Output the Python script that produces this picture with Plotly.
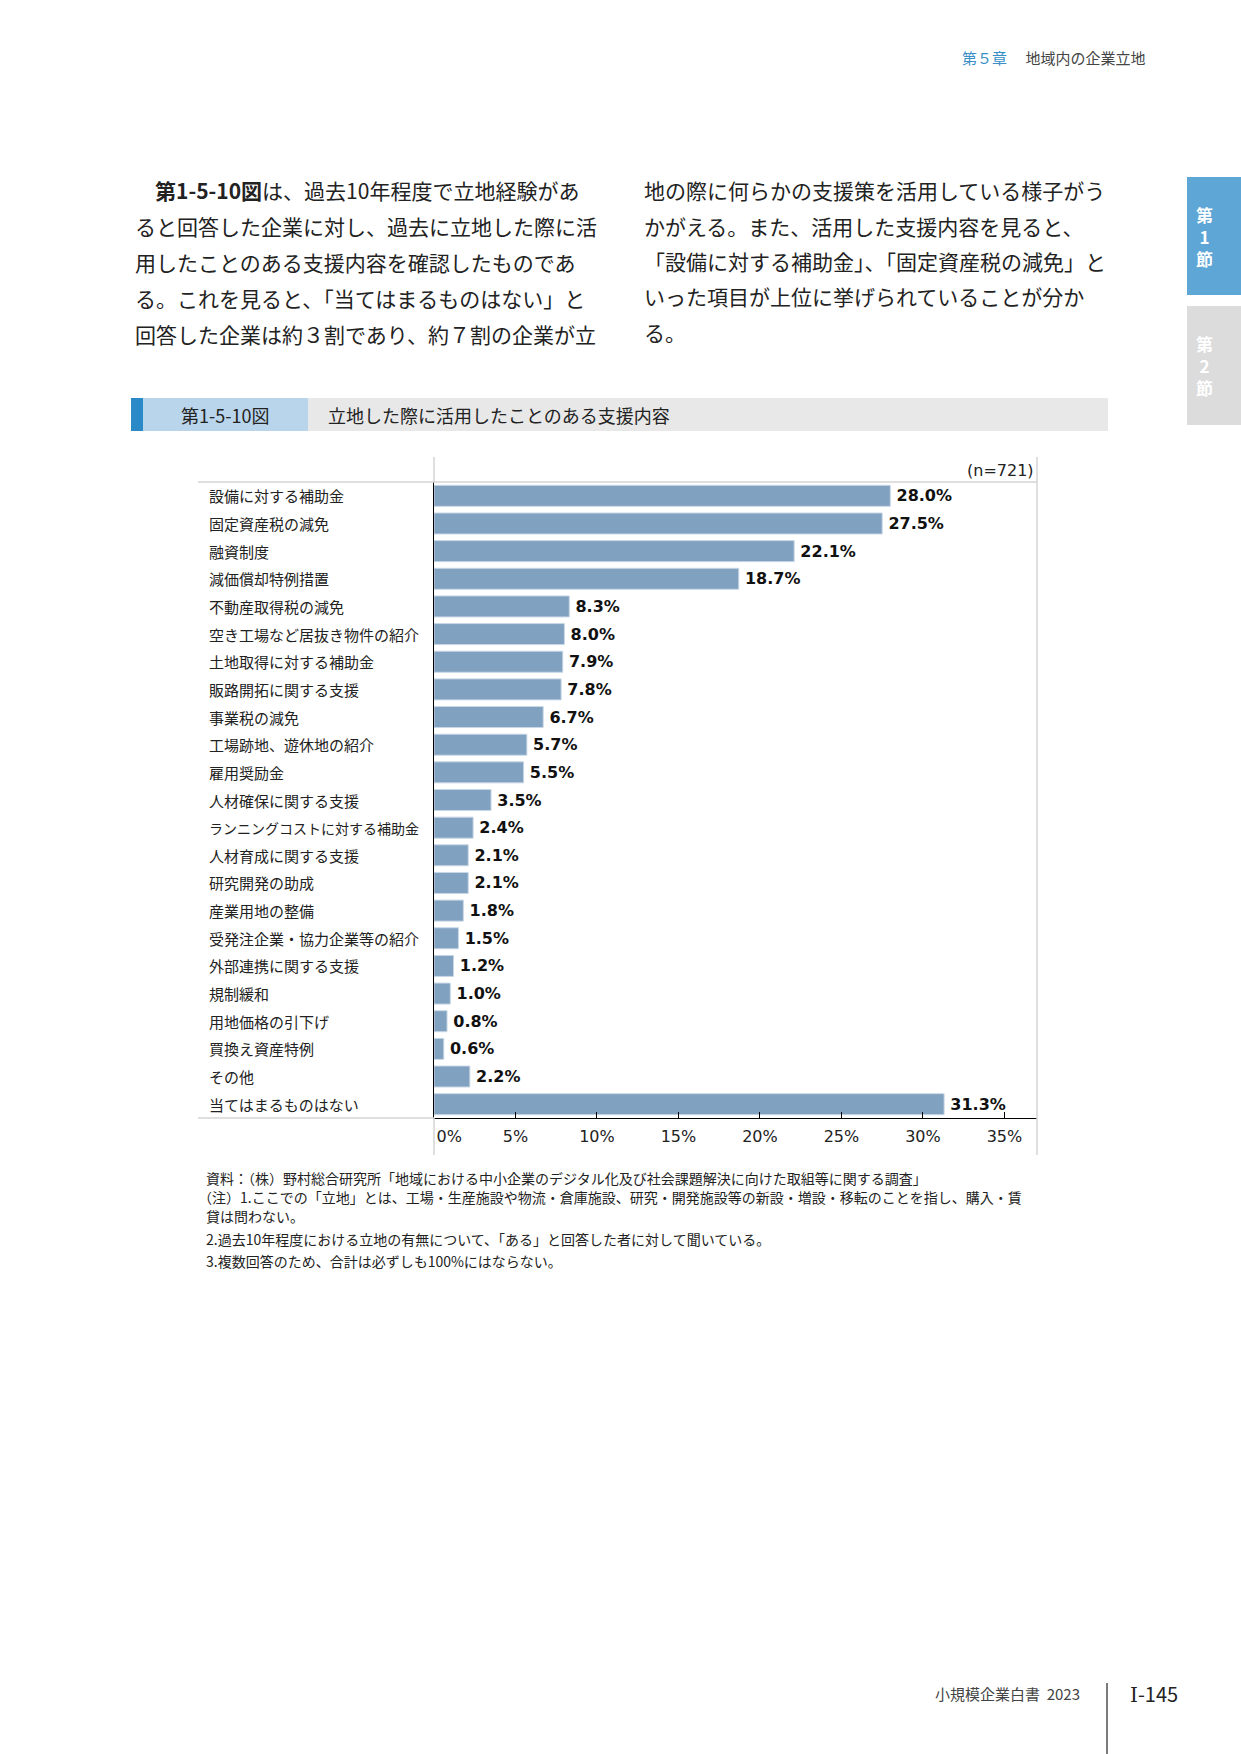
import plotly.graph_objects as go

W, H = 1241, 1754

categories = [
    "設備に対する補助金", "固定資産税の減免", "融資制度", "減価償却特例措置",
    "不動産取得税の減免", "空き工場など居抜き物件の紹介", "土地取得に対する補助金",
    "販路開拓に関する支援", "事業税の減免", "工場跡地、遊休地の紹介", "雇用奨励金",
    "人材確保に関する支援", "ランニングコストに対する補助金", "人材育成に関する支援",
    "研究開発の助成", "産業用地の整備", "受発注企業・協力企業等の紹介",
    "外部連携に関する支援", "規制緩和", "用地価格の引下げ", "買換え資産特例",
    "その他", "当てはまるものはない",
]
values = [28.0, 27.5, 22.1, 18.7, 8.3, 8.0, 7.9, 7.8, 6.7, 5.7, 5.5, 3.5, 2.4,
          2.1, 2.1, 1.8, 1.5, 1.2, 1.0, 0.8, 0.6, 2.2, 31.3]
x_tick_vals = [0, 5, 10, 15, 20, 25, 30, 35]
x_tick_text = ["\u00a0\u00a0\u00a0\u00a0\u00a0\u00a00%", "5%", "10%", "15%", "20%", "25%", "30%", "35%"]
sample_note = "(n=721)"

left_lines = [
    "<b>第1-5-10図</b>は、過去10年程度で立地経験があ",
    "ると回答した企業に対し、過去に立地した際に活",
    "用したことのある支援内容を確認したものであ",
    "る。これを見ると、「当てはまるものはない」と",
    "回答した企業は約３割であり、約７割の企業が立",
]
right_lines = [
    "地の際に何らかの支援策を活用している様子がう",
    "かがえる。また、活用した支援内容を見ると、",
    "「設備に対する補助金」、「固定資産税の減免」と",
    "いった項目が上位に挙げられていることが分か",
    "る。",
]
notes = [
    "資料：（株）野村総合研究所「地域における中小企業のデジタル化及び社会課題解決に向けた取組等に関する調査」",
    "（注）1.ここでの「立地」とは、工場・生産施設や物流・倉庫施設、研究・開発施設等の新設・増設・移転のことを指し、購入・賃",
    "貸は問わない。",
    "2.過去10年程度における立地の有無について、「ある」と回答した者に対して聞いている。",
    "3.複数回答のため、合計は必ずしも100%にはならない。",
]


def X(px):
    return px / W


def Y(py):
    return 1 - py / H


JP = "Noto Sans CJK JP"
TXT = "#222222"

fig = go.Figure()
fig.add_trace(go.Bar(
    x=values, y=categories, orientation="h",
    marker=dict(color="#80a1c0", line=dict(color="#c9d7e6", width=1)),
    texttemplate="\u2009%{x:.1f}%", textposition="outside", constraintext="none",
    cliponaxis=False,
    textfont=dict(family="DejaVu Sans", size=16, color="#111111", weight="bold"),
    hoverinfo="skip",
))

plot_left, plot_right, plot_top, plot_bottom = 434, 1037, 482, 1118

fig.update_layout(
    width=W, height=H,
    margin=dict(l=0, r=0, t=0, b=0, pad=0, autoexpand=False),
    paper_bgcolor="white", plot_bgcolor="white",
    showlegend=False,
    bargap=0.24,
    font=dict(family=JP, color=TXT),
    xaxis=dict(
        domain=[X(plot_left), X(plot_right)], range=[0, 37],
        automargin=False,
        showgrid=False, zeroline=False,
        showline=True, linecolor="#000000", linewidth=1,
        ticks="inside", ticklen=6, tickcolor="#000000",
        tickvals=x_tick_vals, ticktext=x_tick_text,
        tickfont=dict(family="DejaVu Sans", size=16, color=TXT),
        ticklabelstandoff=4,
    ),
    yaxis=dict(
        domain=[Y(plot_bottom), Y(plot_top)],
        automargin=False,
        autorange="reversed", showticklabels=False,
        showgrid=False, zeroline=False,
        showline=True, linecolor="#000000", linewidth=1, ticks="",
    ),
)

shapes = []
ann = []

# chart frame (light grey)
grey = "#d4d4d4"
shapes += [
    dict(type="line", xref="paper", yref="paper", x0=X(198), x1=X(plot_right), y0=Y(plot_top), y1=Y(plot_top), line=dict(color=grey, width=1.5)),
    dict(type="line", xref="paper", yref="paper", x0=X(198), x1=X(plot_left), y0=Y(plot_bottom), y1=Y(plot_bottom), line=dict(color=grey, width=1.5)),
    dict(type="line", xref="paper", yref="paper", x0=X(plot_left), x1=X(plot_left), y0=Y(457), y1=Y(plot_top), line=dict(color=grey, width=1.5)),
    dict(type="line", xref="paper", yref="paper", x0=X(plot_left), x1=X(plot_left), y0=Y(plot_bottom), y1=Y(1155), line=dict(color=grey, width=1.5)),
    dict(type="line", xref="paper", yref="paper", x0=X(plot_right), x1=X(plot_right), y0=Y(457), y1=Y(1155), line=dict(color=grey, width=1.5)),
]

# category labels
for c in categories:
    fs = 14 if len(c) >= 15 else 15
    ann.append(dict(x=X(207), xref="paper", y=c, yref="y", text=c, showarrow=False,
                    xanchor="left", yanchor="middle", font=dict(family=JP, size=fs, color=TXT)))

ann.append(dict(x=X(1036), xref="paper", y=Y(470), yref="paper", text=sample_note, showarrow=False,
                xanchor="right", yanchor="middle", font=dict(family="DejaVu Sans", size=16, color=TXT)))

# page header
ann.append(dict(x=X(960), xref="paper", y=Y(57), yref="paper",
                text="<span style='color:#3a8fc8'>第５章</span>　 地域内の企業立地", showarrow=False,
                xanchor="left", yanchor="middle", font=dict(family=JP, size=15, color="#444444")))

# body text
for i, t in enumerate(left_lines):
    xpos = 153 if i == 0 else 133
    ann.append(dict(x=X(xpos), xref="paper", y=Y(190 + i * 36), yref="paper", text=t, showarrow=False,
                    xanchor="left", yanchor="middle", font=dict(family=JP, size=21, color=TXT)))
for i, t in enumerate(right_lines):
    ann.append(dict(x=X(642), xref="paper", y=Y(190 + i * 35.5), yref="paper", text=t, showarrow=False,
                    xanchor="left", yanchor="middle", font=dict(family=JP, size=21, color=TXT)))

# side tabs
shapes += [
    dict(type="rect", xref="paper", yref="paper", x0=X(1187), x1=X(1241), y0=Y(177), y1=Y(295), fillcolor="#5ea6d6", line=dict(width=0)),
    dict(type="rect", xref="paper", yref="paper", x0=X(1187), x1=X(1241), y0=Y(306), y1=Y(425), fillcolor="#dcdcdc", line=dict(width=0)),
]
ann.append(dict(x=X(1204), xref="paper", y=Y(236), yref="paper", text="<b>第<br>1<br>節</b>", showarrow=False,
                xanchor="center", yanchor="middle", font=dict(family=JP, size=17, color="white")))
ann.append(dict(x=X(1204), xref="paper", y=Y(366), yref="paper", text="<b>第<br>2<br>節</b>", showarrow=False,
                xanchor="center", yanchor="middle", font=dict(family=JP, size=17, color="white")))

# figure title bar
shapes += [
    dict(type="rect", xref="paper", yref="paper", x0=X(131), x1=X(143), y0=Y(431), y1=Y(398), fillcolor="#2a8ac8", line=dict(width=0)),
    dict(type="rect", xref="paper", yref="paper", x0=X(143), x1=X(308), y0=Y(431), y1=Y(398), fillcolor="#b9d5eb", line=dict(width=0)),
    dict(type="rect", xref="paper", yref="paper", x0=X(308), x1=X(1108), y0=Y(431), y1=Y(398), fillcolor="#e8e8e8", line=dict(width=0)),
]
ann.append(dict(x=X(225), xref="paper", y=Y(414.5), yref="paper", text="第1-5-10図", showarrow=False,
                xanchor="center", yanchor="middle", font=dict(family=JP, size=18, color=TXT)))
ann.append(dict(x=X(326), xref="paper", y=Y(414.5), yref="paper", text="立地した際に活用したことのある支援内容", showarrow=False,
                xanchor="left", yanchor="middle", font=dict(family=JP, size=18, color=TXT)))

# notes
note_pos = [(204, 1178), (196, 1197), (204, 1216), (204, 1239), (204, 1261)]
for (nx, ny), t in zip(note_pos, notes):
    ann.append(dict(x=X(nx), xref="paper", y=Y(ny), yref="paper", text=t, showarrow=False,
                    xanchor="left", yanchor="middle", font=dict(family=JP, size=14, color=TXT)))

# page footer
ann.append(dict(x=X(1082), xref="paper", y=Y(1693), yref="paper", text="小規模企業白書  2023", showarrow=False,
                xanchor="right", yanchor="middle", font=dict(family=JP, size=15, color="#444444")))
shapes.append(dict(type="line", xref="paper", yref="paper", x0=X(1107), x1=X(1107), y0=Y(1683), y1=Y(1754),
                   line=dict(color="#222222", width=1.2)))
ann.append(dict(x=X(1128), xref="paper", y=Y(1693), yref="paper",
                text="<span style='font-family:DejaVu Serif'>I</span>-145", showarrow=False,
                xanchor="left", yanchor="middle", font=dict(family=JP, size=20, color=TXT)))

fig.update_layout(shapes=shapes, annotations=ann)
fig.write_html("out.html")
